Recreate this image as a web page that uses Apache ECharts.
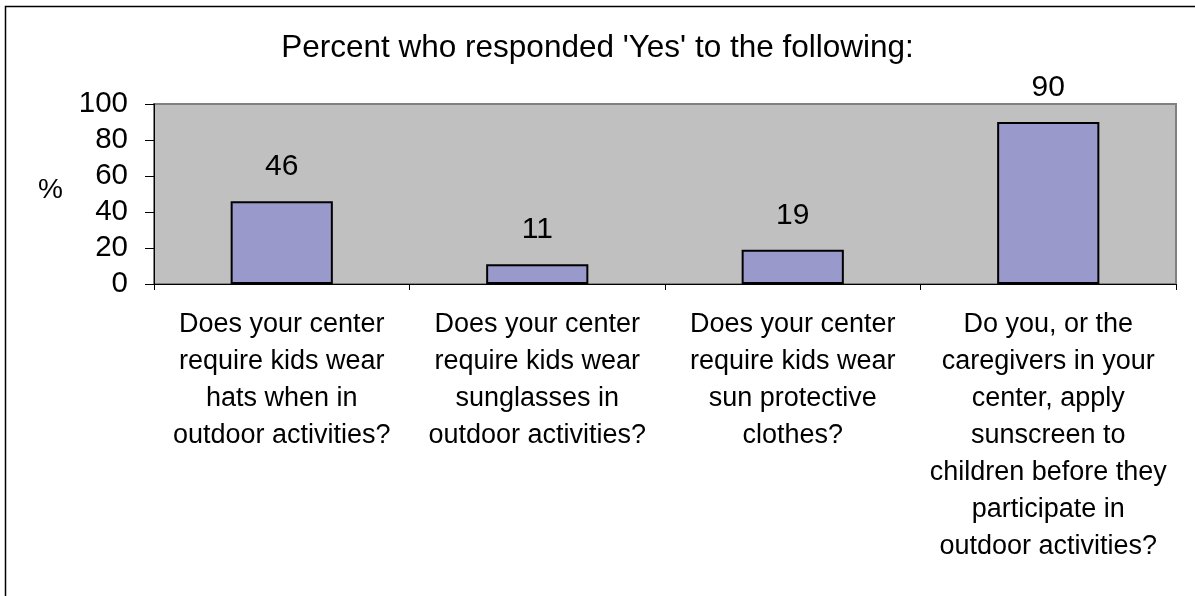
<!DOCTYPE html>
<html>
<head>
<meta charset="utf-8">
<script src="https://cdn.jsdelivr.net/npm/echarts@6/dist/echarts.min.js"></script>
<style>
  html, body { margin: 0; padding: 0; background: #fff; }
  #chart { width: 1195px; height: 596px; }
</style>
</head>
<body>
<div id="chart"></div>
<script>
// survey questions (line breaks as wrapped in the original)
const categories = [
  'Does your center\nrequire kids wear\nhats when in\noutdoor activities?',
  'Does your center\nrequire kids wear\nsunglasses in\noutdoor activities?',
  'Does your center\nrequire kids wear\nsun protective\nclothes?',
  'Do you, or the\ncaregivers in your\ncenter, apply\nsunscreen to\nchildren before they\nparticipate in\noutdoor activities?'
]
const yesPercent = [46, 11, 19, 90]
const yTicks = { min: 0, max: 100, interval: 20 }

const font = 'Arial, "Liberation Sans", sans-serif'

const chart = echarts.init(document.getElementById('chart'), null, { renderer: 'canvas' })

chart.setOption({
  animation: false,
  backgroundColor: '#ffffff',
  title: {
    text: "Percent who responded 'Yes' to the following:",
    left: 'center',
    top: 27,
    textStyle: { fontFamily: font, fontSize: 31.5, fontWeight: 'normal', color: '#000' }
  },
  grid: {
    left: 154,
    right: 19,
    top: 104,
    bottom: 312,
    show: true,
    backgroundColor: '#c0c0c0',
    borderColor: '#808080',
    borderWidth: 2
  },
  xAxis: {
    type: 'category',
    data: categories,
    axisLine: { show: true, lineStyle: { color: '#000', width: 1 } },
    axisTick: { show: true, length: 6, alignWithLabel: false, lineStyle: { color: '#000' } },
    axisLabel: {
      interval: 0,
      margin: 22,
      fontFamily: font,
      fontSize: 27,
      lineHeight: 37,
      color: '#000'
    },
    splitLine: { show: false }
  },
  yAxis: {
    type: 'value',
    min: yTicks.min,
    max: yTicks.max,
    interval: yTicks.interval,
    axisLine: { show: true, lineStyle: { color: '#000', width: 1 } },
    axisTick: { show: true, length: 9, lineStyle: { color: '#000' } },
    axisLabel: {
      margin: 26,
      fontFamily: font,
      fontSize: 29.5,
      color: '#000'
    },
    splitLine: { show: false }
  },
  series: [{
    type: 'bar',
    data: yesPercent,
    barWidth: '40%',
    itemStyle: { color: '#9999cc', borderColor: '#000', borderWidth: 2 },
    label: {
      show: true,
      position: 'top',
      distance: 19,
      fontFamily: font,
      fontSize: 30,
      color: '#000'
    }
  }],
  graphic: [
    {
      type: 'text',
      left: 38,
      top: 176,
      style: { text: '%', fontFamily: font, fontSize: 28, fill: '#000' }
    },
    {
      type: 'rect',
      shape: { x: 5.5, y: 6.5, width: 1300, height: 700 },
      style: { fill: null, stroke: '#000', lineWidth: 1.5 },
      silent: true
    }
  ]
})
</script>
</body>
</html>
